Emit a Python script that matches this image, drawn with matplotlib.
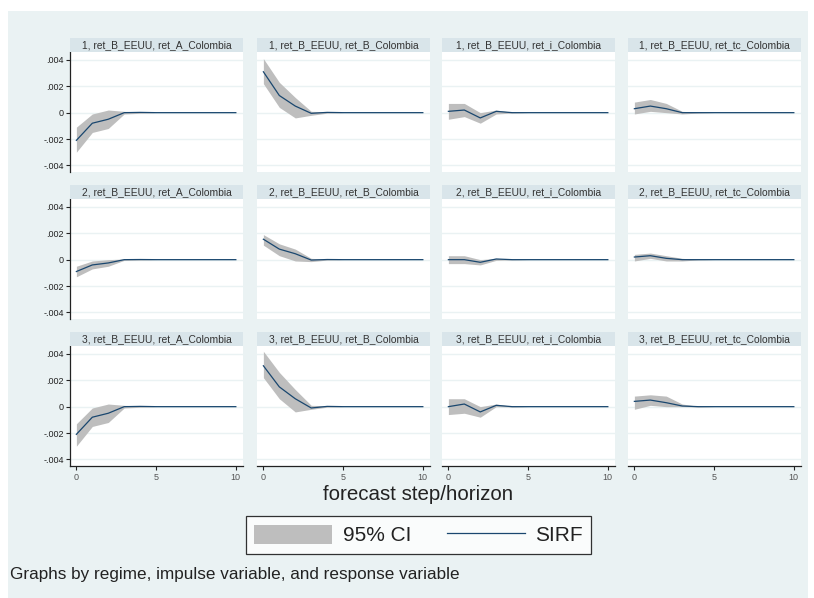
import matplotlib
matplotlib.use('Agg')
import matplotlib.pyplot as plt
from matplotlib.patches import Rectangle

plt.rcParams['font.family'] = ['Liberation Sans', 'DejaVu Sans']

# ---------------- data ----------------
steps = [0, 1, 2, 3, 4, 5, 6, 7, 8, 9, 10]
regimes = ['1', '2', '3']
impulse = 'ret_B_EEUU'
responses = ['ret_A_Colombia', 'ret_B_Colombia', 'ret_i_Colombia', 'ret_tc_Colombia']
ytick_vals = [-0.004, -0.002, 0, 0.002, 0.004]
ytick_labels = ['-.004', '-.002', '0', '.002', '.004']
xtick_vals = [0, 5, 10]
xtick_labels = ['0', '5', '10']

# regime 1
irf_1_A = [-0.0021, -0.0008, -0.0005, 0.0, 0.00002, 0, 0, 0, 0, 0, 0]
lo_1_A = [-0.0030, -0.0015, -0.0012, -0.0001, -0.00005, 0, 0, 0, 0, 0, 0]
hi_1_A = [-0.0011, -0.0001, 0.0002, 0.0001, 0.00005, 0, 0, 0, 0, 0, 0]
irf_1_B = [0.0031, 0.0013, 0.0005, -0.00005, 0.00002, 0, 0, 0, 0, 0, 0]
lo_1_B = [0.0022, 0.0004, -0.0004, -0.0002, -0.00004, 0, 0, 0, 0, 0, 0]
hi_1_B = [0.0041, 0.0023, 0.00115, 0.0001, 0.00007, 0, 0, 0, 0, 0, 0]
irf_1_i = [0.0001, 0.0002, -0.0004, 0.0001, 0.0, 0, 0, 0, 0, 0, 0]
lo_1_i = [-0.0005, -0.0003, -0.0008, -0.0001, -0.00003, 0, 0, 0, 0, 0, 0]
hi_1_i = [0.0007, 0.0007, 0.0, 0.0002, 0.00003, 0, 0, 0, 0, 0, 0]
irf_1_tc = [0.0003, 0.0005, 0.0003, 0.0, 0.0, 0, 0, 0, 0, 0, 0]
lo_1_tc = [-0.0001, 0.0001, 0.0, -0.0001, -0.00003, 0, 0, 0, 0, 0, 0]
hi_1_tc = [0.0008, 0.0010, 0.0007, 0.0001, 0.00003, 0, 0, 0, 0, 0, 0]

# regime 2
irf_2_A = [-0.0009, -0.0004, -0.00025, 0.0, 0.00001, 0, 0, 0, 0, 0, 0]
lo_2_A = [-0.0013, -0.0007, -0.0005, -0.00005, -0.00003, 0, 0, 0, 0, 0, 0]
hi_2_A = [-0.0005, -0.0001, 0.0, 0.00005, 0.00003, 0, 0, 0, 0, 0, 0]
irf_2_B = [0.00155, 0.0008, 0.00045, -0.00003, 0.00001, 0, 0, 0, 0, 0, 0]
lo_2_B = [0.0011, 0.0003, -0.0001, -0.00015, -0.00003, 0, 0, 0, 0, 0, 0]
hi_2_B = [0.0019, 0.0012, 0.0008, 0.0001, 0.00004, 0, 0, 0, 0, 0, 0]
irf_2_i = [0.0, 0.0, -0.0002, 0.00005, 0.0, 0, 0, 0, 0, 0, 0]
lo_2_i = [-0.0003, -0.0003, -0.0004, -0.00005, -0.00002, 0, 0, 0, 0, 0, 0]
hi_2_i = [0.0003, 0.0003, 0.0, 0.0001, 0.00002, 0, 0, 0, 0, 0, 0]
irf_2_tc = [0.0002, 0.0003, 0.0001, 0.0, 0.0, 0, 0, 0, 0, 0, 0]
lo_2_tc = [-0.0001, 0.0001, -0.0001, -0.0001, -0.00002, 0, 0, 0, 0, 0, 0]
hi_2_tc = [0.0004, 0.0005, 0.0003, 0.0001, 0.00002, 0, 0, 0, 0, 0, 0]

# regime 3
irf_3_A = [-0.0021, -0.0008, -0.0005, 0.0, 0.00002, 0, 0, 0, 0, 0, 0]
lo_3_A = [-0.0030, -0.0015, -0.0012, -0.0001, -0.00005, 0, 0, 0, 0, 0, 0]
hi_3_A = [-0.0013, -0.0001, 0.0002, 0.0001, 0.00005, 0, 0, 0, 0, 0, 0]
irf_3_B = [0.0031, 0.0015, 0.0006, -0.0001, 0.00002, 0, 0, 0, 0, 0, 0]
lo_3_B = [0.0022, 0.0006, -0.0004, -0.0002, -0.00004, 0, 0, 0, 0, 0, 0]
hi_3_B = [0.0042, 0.0026, 0.0013, 0.0001, 0.00007, 0, 0, 0, 0, 0, 0]
irf_3_i = [0.0, 0.0002, -0.0004, 0.0001, 0.0, 0, 0, 0, 0, 0, 0]
lo_3_i = [-0.0006, -0.0005, -0.0008, 0.0, -0.00003, 0, 0, 0, 0, 0, 0]
hi_3_i = [0.0006, 0.0006, 0.0, 0.0002, 0.00003, 0, 0, 0, 0, 0, 0]
irf_3_tc = [0.0004, 0.0005, 0.0003, 0.00005, 0.0, 0, 0, 0, 0, 0, 0]
lo_3_tc = [-0.0002, 0.0001, 0.0, 0.0, -0.00003, 0, 0, 0, 0, 0, 0]
hi_3_tc = [0.0008, 0.0009, 0.0008, 0.0002, 0.00003, 0, 0, 0, 0, 0, 0]

panels = [
    [(irf_1_A, lo_1_A, hi_1_A), (irf_1_B, lo_1_B, hi_1_B), (irf_1_i, lo_1_i, hi_1_i), (irf_1_tc, lo_1_tc, hi_1_tc)],
    [(irf_2_A, lo_2_A, hi_2_A), (irf_2_B, lo_2_B, hi_2_B), (irf_2_i, lo_2_i, hi_2_i), (irf_2_tc, lo_2_tc, hi_2_tc)],
    [(irf_3_A, lo_3_A, hi_3_A), (irf_3_B, lo_3_B, hi_3_B), (irf_3_i, lo_3_i, hi_3_i), (irf_3_tc, lo_3_tc, hi_3_tc)],
]

# ---------------- style ----------------
BG = '#EAF2F3'
STRIP = '#D9E5EA'
CI_COL = '#BEBEBE'
LINE_COL = '#1A476F'
TXT = '#222222'

W, H = 814, 598
fig = plt.figure(figsize=(W / 100, H / 100), dpi=100)
fig.patch.set_facecolor('white')
fig.add_artist(Rectangle((8 / W, 0), (808 - 8) / W, (598 - 11) / H,
                         transform=fig.transFigure, facecolor=BG, edgecolor='none', zorder=0))

col_x = [70, 257, 442, 628]
pw = 173
strip_top = [38, 185, 332]
sh = 14
ph = 120

handles = None
for r in range(3):
    for c in range(4):
        x0 = col_x[c]
        ptop = strip_top[r] + sh
        ax = fig.add_axes([x0 / W, 1 - (ptop + ph) / H, pw / W, ph / H])
        ax.set_facecolor('white')
        irf, lo, hi = panels[r][c]
        poly = ax.fill_between(steps, lo, hi, color=CI_COL, lw=0, label='95% CI', zorder=2)
        ln, = ax.plot(steps, irf, color=LINE_COL, lw=0.9, label='SIRF', zorder=3)
        if handles is None:
            handles = [poly, ln]
        ax.set_xlim(-0.4, 10.45)
        ax.set_ylim(-0.0045, 0.0046)
        ax.set_yticks(ytick_vals)
        ax.set_yticklabels(ytick_labels)
        ax.set_xticks(xtick_vals)
        ax.set_xticklabels(xtick_labels)
        ax.yaxis.grid(True, color=BG, lw=1.0)
        ax.set_axisbelow(True)
        for s in ax.spines.values():
            s.set_visible(False)
        if c == 0:
            ax.spines['left'].set_visible(True)
            ax.spines['left'].set_color('#222222')
            ax.spines['left'].set_linewidth(0.9)
            ax.tick_params(axis='y', labelsize=6.5, length=3, width=0.8, colors='#222222', pad=1.5)
        else:
            ax.tick_params(axis='y', left=False, labelleft=False)
        if r == 2:
            ax.spines['bottom'].set_visible(True)
            ax.spines['bottom'].set_color('#222222')
            ax.spines['bottom'].set_linewidth(0.9)
            ax.tick_params(axis='x', labelsize=6.5, length=3, width=0.8, colors='#222222', pad=2,
                           labelcolor='#555555')
        else:
            ax.tick_params(axis='x', bottom=False, labelbottom=False)

        sax = fig.add_axes([x0 / W, 1 - (strip_top[r] + sh) / H, pw / W, sh / H])
        sax.set_facecolor(STRIP)
        sax.set_xticks([]); sax.set_yticks([])
        for s in sax.spines.values():
            s.set_visible(False)
        sax.text(0.5, 0.5, f'{regimes[r]}, {impulse}, {responses[c]}', ha='center', va='center',
                 fontsize=7.4, color='#333333', transform=sax.transAxes)

fig.text(418 / W, 1 - 494 / H, 'forecast step/horizon', ha='center', va='center',
         fontsize=14.8, color=TXT)

leg = fig.legend(handles, ['95% CI', 'SIRF'], loc='center', bbox_to_anchor=(418.5 / W, 1 - 535 / H),
                 ncol=2, fontsize=15, frameon=True, fancybox=False, edgecolor='black',
                 handlelength=3.75, handleheight=1.06, columnspacing=1.7, handletextpad=0.5,
                 borderpad=0.4, borderaxespad=0)
leg.get_frame().set_linewidth(0.9)
leg.get_frame().set_facecolor('white')
for t in leg.get_texts():
    t.set_color(TXT)

fig.text(10 / W, 1 - 574 / H, 'Graphs by regime, impulse variable, and response variable',
         ha='left', va='center', fontsize=12.3, color=TXT)

fig.savefig('out.png', dpi=100, facecolor=fig.get_facecolor())
